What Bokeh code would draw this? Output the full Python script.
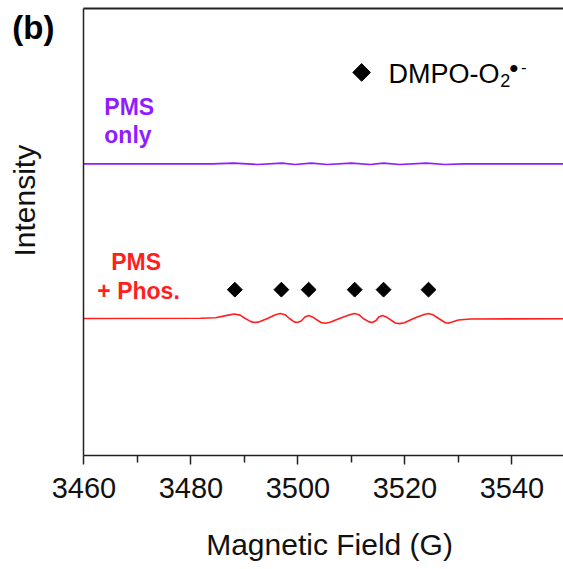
import numpy as np
from bokeh.plotting import figure
from bokeh.models import Range1d, Label, FixedTicker, LinearAxis
from bokeh.embed import file_html
from bokeh.resources import INLINE

# --- data ---
field_phos = [3460.0, 3481.8, 3484.6, 3487.0, 3488.1, 3489.2, 3490.0, 3491.2, 3491.9, 3492.8,
              3494.3, 3495.8, 3496.7, 3497.6, 3498.4, 3499.3, 3499.9, 3500.6, 3501.3, 3502.0,
              3502.7, 3504.3, 3505.1, 3506.0, 3508.0, 3509.8, 3510.6, 3511.4, 3512.2, 3513.3,
              3513.9, 3514.6, 3515.1, 3515.8, 3516.5, 3518.2, 3519.0, 3519.9, 3521.8, 3523.6,
              3524.4, 3525.2, 3526.3, 3527.5, 3528.1, 3528.8, 3530.0, 3532.2, 3550.0]
intensity_phos = [30.65, 30.7, 30.8, 31.4, 31.66, 31.4, 30.76, 29.95, 29.75, 29.9,
                  30.65, 31.5, 31.77, 31.5, 30.65, 29.9, 29.75, 30.1, 31.0, 31.3,
                  31.0, 29.75, 29.6, 29.8, 30.76, 31.55, 31.77, 31.5, 30.65, 29.9,
                  29.75, 30.2, 31.0, 31.3, 31.0, 29.65, 29.5, 29.7, 30.76, 31.55,
                  31.77, 31.5, 30.65, 29.75, 29.6, 29.85, 30.3, 30.55, 30.6]

field_pms = [3460.0, 3484.0, 3488.0, 3492.5, 3497.0, 3499.5, 3502.5, 3505.5, 3510.0,
             3513.5, 3516.0, 3519.0, 3524.0, 3527.5, 3531.0, 3550.0]
intensity_pms = [65.25, 65.25, 65.4, 65.1, 65.4, 65.1, 65.4, 65.1, 65.4,
                 65.1, 65.4, 65.1, 65.4, 65.1, 65.25, 65.25]

marker_field = [3488.2, 3496.9, 3502.0, 3510.6, 3516.0, 3524.4]
marker_intensity = [37.1, 37.1, 37.1, 37.1, 37.1, 37.1]

x_ticks = [3460, 3480, 3500, 3520, 3540]
x_minor = [3470, 3490, 3510, 3530, 3550]
field_min, field_max = 3460, 3550
int_min, int_max = 0, 100

PURPLE = "#8F1DFF"
RED = "#FF1F1F"
FONT = "Liberation Sans"
AXIS_COLOR = "#222222"

# the frame fills the whole canvas; the axes are pinned to the data box
p = figure(width=563, height=568, output_backend="svg", toolbar_location=None,
           x_range=Range1d(3444.4, 3549.63), y_range=Range1d(-25.28, 101.79),
           min_border_left=0, min_border_right=0, min_border_top=0,
           min_border_bottom=0)
p.outline_line_color = None
p.grid.visible = False
p.background_fill_color = "white"
p.border_fill_color = "white"

# x axis
xa = p.xaxis[0]
xa.fixed_location = int_min
xa.bounds = (field_min, field_max)
xa.ticker = FixedTicker(ticks=x_ticks, minor_ticks=x_minor)
xa.axis_line_color = AXIS_COLOR
xa.axis_line_width = 1.5
xa.major_tick_line_color = AXIS_COLOR
xa.major_tick_line_width = 1.5
xa.minor_tick_line_color = AXIS_COLOR
xa.minor_tick_line_width = 1.5
xa.major_tick_in = 0
xa.major_tick_out = 9
xa.minor_tick_in = 0
xa.minor_tick_out = 7
xa.major_label_text_font = FONT
xa.major_label_text_font_size = "29px"
xa.major_label_text_color = "#111111"
xa.major_label_standoff = 14

def bare_axis(ax):
    ax.ticker = FixedTicker(ticks=[])
    ax.major_tick_out = 0
    ax.major_tick_in = 0
    ax.minor_tick_out = 0
    ax.minor_tick_in = 0
    ax.major_label_text_font_size = "0px"
    ax.major_label_standoff = 0
    ax.axis_line_color = AXIS_COLOR
    ax.axis_line_width = 1.5

ya = p.yaxis[0]
bare_axis(ya)
ya.fixed_location = field_min
ya.bounds = (int_min, int_max)

# top border as a bare axis
top_axis = LinearAxis(bounds=(field_min, field_max), fixed_location=int_max)
bare_axis(top_axis)
top_axis.axis_line_width = 2
p.add_layout(top_axis, "above")

# traces
p.line(field_pms, intensity_pms, line_color=PURPLE, line_width=1.6)
p.line(field_phos, intensity_phos, line_color=RED, line_width=1.6)

# markers
p.scatter(marker_field, marker_intensity, marker="square", size=10.5, angle=np.pi / 4,
          fill_color="black", line_color="black")

# legend marker + text
p.scatter([3511.9], [85.7], marker="square", size=12.5, angle=np.pi / 4,
          fill_color="black", line_color="black")
p.add_layout(Label(x=3516.9, y=85.3, text="DMPO-O", text_font=FONT,
                   text_font_size="27px", text_color="black", text_baseline="alphabetic"))
p.add_layout(Label(x=3537.8, y=83.9, text="2", text_font=FONT,
                   text_font_size="18px", text_color="black", text_baseline="alphabetic"))
p.add_layout(Label(x=3539.5, y=86.6, text="\u2022", text_font=FONT,
                   text_font_size="26px", text_color="black", text_baseline="middle"))
p.add_layout(Label(x=3541.7, y=86.9, text="-", text_font=FONT,
                   text_font_size="17px", text_color="black", text_baseline="middle"))

# series labels
for txt, x, y, col in [("PMS", 3463.8, 77.9, PURPLE), ("only", 3463.8, 71.8, PURPLE),
                       ("PMS", 3465.1, 43.3, RED), ("+ Phos.", 3462.5, 36.7, RED)]:
    p.add_layout(Label(x=x, y=y, text=txt, text_font=FONT, text_font_size="23px",
                       text_font_style="bold", text_color=col, text_baseline="alphabetic"))

# (b)
p.add_layout(Label(x=3446.6, y=95.8, text="(b)", text_font=FONT, text_font_size="33px",
                   text_font_style="bold", text_color="black", text_baseline="alphabetic"))

# axis titles
p.add_layout(Label(x=3448.8, y=57.0, text="Intensity", text_font=FONT, text_font_size="30px",
                   angle=np.pi / 2, text_align="center", text_baseline="alphabetic",
                   text_color="#111111"))
p.add_layout(Label(x=3505.9, y=-19.84, text="Magnetic Field (G)", text_font=FONT,
                   text_font_size="30px", text_align="center", text_baseline="alphabetic",
                   text_color="#111111"))

open("out.html", "w").write(file_html(p, INLINE))
